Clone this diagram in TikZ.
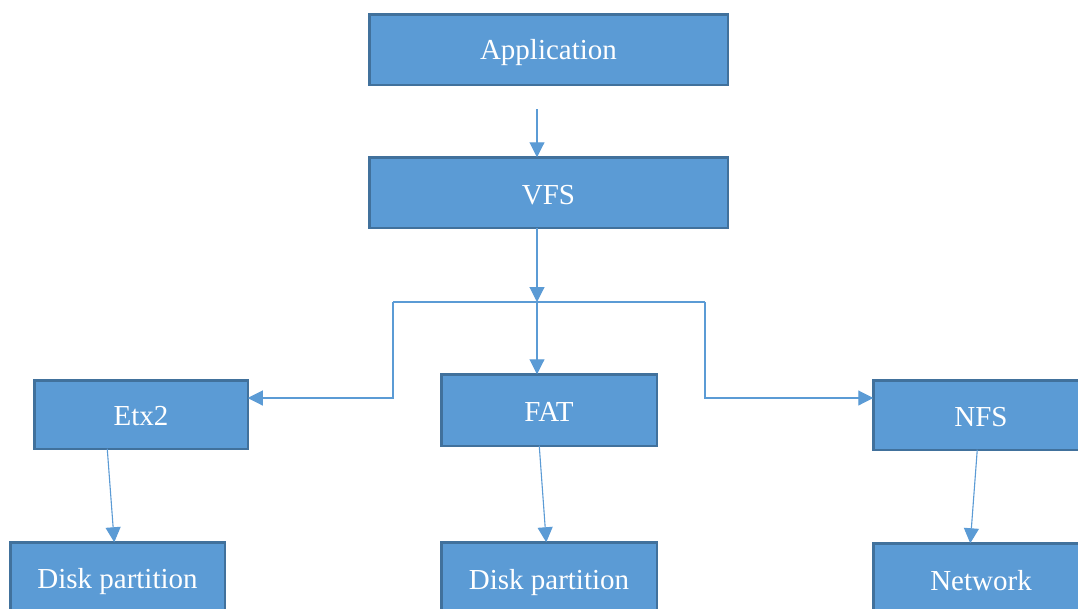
\documentclass[tikz,border=0pt]{standalone}
\usepackage{fontspec}
\setmainfont{Liberation Serif}
\usetikzlibrary{arrows.meta,calc}
\definecolor{boxfill}{HTML}{5B9BD5}
\definecolor{boxline}{HTML}{41719C}
\definecolor{wire}{HTML}{5B9BD5}
% lower a label without changing the box size it reports
\newcommand{\lbl}[2][-3pt]{\raisebox{#1}[\height][\depth]{#2}}
\tikzset{
  layer/.style={draw=boxline, line width=2.5pt, fill=boxfill, text=white,
    inner sep=0pt, outer sep=0pt, font=\fontsize{29}{34}\selectfont},
  conn/.style={draw=wire, line width=1.1pt,
    -{Triangle[length=15pt,width=15pt]}},
  plain/.style={draw=wire, line width=1.1pt}
}
\begin{document}
\begin{tikzpicture}[x=1pt,y=-1pt]
\useasboundingbox (0,0) rectangle (1078,608);
\clip (0,0) rectangle (1078,608);
\fill[white] (0,0) rectangle (1078,608);

% boxes
\node[layer, minimum width=358.5pt, minimum height=70.5pt] (app) at (548.5,49.5) {\lbl{Application}};
\node[layer, minimum width=358.5pt, minimum height=70.5pt] (vfs) at (548.5,192.5) {\lbl{VFS}};
\node[layer, minimum width=213.5pt, minimum height=68.5pt] (etx) at (141,414.5) {\lbl[-2pt]{Etx2}};
\node[layer, minimum width=215.5pt, minimum height=71.5pt] (fat) at (549,410) {\lbl[-2pt]{FAT}};
\node[layer, minimum width=215.5pt, minimum height=69.5pt] (nfs) at (981,415) {\lbl[-2pt]{NFS}};
\node[layer, minimum width=214.5pt, minimum height=70.5pt] (dpl) at (117.5,577.5) {\lbl[-4pt]{Disk partition}};
\node[layer, minimum width=215.5pt, minimum height=70.5pt] (dpm) at (549,577.5) {\lbl[-5pt]{Disk partition}};
\node[layer, minimum width=215.5pt, minimum height=70.5pt] (net) at (981,578.5) {\lbl[-2pt]{Network}};

% connectors
\coordinate (appTail) at (537,109);
\coordinate (split) at (537,302);
\coordinate (lbend) at (393,302);
\coordinate (rbend) at (705,302);

\draw[conn] (appTail) -- (appTail |- vfs.north);
\draw[conn] (split |- vfs.south) -- (split);
\draw[plain] (lbend) -- (rbend);
\draw[conn] (split) -- (split |- fat.north);
\draw[conn] (lbend) |- (etx.east |- 0,398);
\draw[conn] (rbend) |- (nfs.west |- 0,398);

\draw[conn] ($(etx.south west)+(73,0)$) -- ($(dpl.north west)+(104,0)$);
\draw[conn] ($(fat.south west)+(98,0)$) -- ($(dpm.north west)+(105,0)$);
\draw[conn] ($(nfs.south west)+(104,0)$) -- ($(net.north west)+(97,0)$);
\end{tikzpicture}
\end{document}
